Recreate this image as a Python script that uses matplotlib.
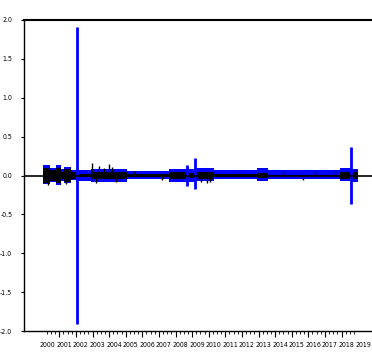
import matplotlib
matplotlib.use("Agg")
import matplotlib.pyplot as plt
import matplotlib.transforms as mtransforms
from matplotlib.font_manager import FontProperties, findfont
import numpy as np

# Envelope segments (year start, year end) with blue band and black band limits
seg_start = [2000.0, 2000.44, 2000.8, 2001.1, 2001.3, 2001.7, 2002.0, 2002.9, 2005.1,
             2007.6, 2008.75, 2009.25, 2010.3, 2012.9, 2013.55, 2017.9, 2018.63]
seg_end = [2000.44, 2000.8, 2001.1, 2001.3, 2001.7, 2002.0, 2002.9, 2005.1, 2007.6,
           2008.75, 2009.25, 2010.3, 2012.9, 2013.55, 2017.9, 2018.63, 2019.0]
blue_hi = [0.13, 0.10, 0.13, 0.08, 0.11, 0.07, 0.07, 0.085, 0.055,
           0.09, 0.09, 0.10, 0.07, 0.10, 0.07, 0.10, 0.09]
blue_lo = [-0.115, -0.09, -0.12, -0.07, -0.10, -0.06, -0.07, -0.085, -0.05,
           -0.085, -0.08, -0.07, -0.05, -0.07, -0.05, -0.07, -0.08]
black_hi = [0.10, 0.07, 0.10, 0.05, 0.08, 0.04, 0.02, 0.04, 0.015,
            0.04, 0.035, 0.04, 0.015, 0.035, 0.012, 0.04, 0.05]
black_lo = [-0.10, -0.07, -0.10, -0.05, -0.08, -0.04, -0.02, -0.04, -0.015,
            -0.04, -0.035, -0.04, -0.015, -0.035, -0.012, -0.04, -0.05]

# Isolated blue spikes (year, high, low)
spike_year = [2002.05, 2008.69, 2009.18, 2018.57]
spike_hi = [1.91, 0.13, 0.23, 0.37]
spike_lo = [-1.91, -0.14, -0.18, -0.37]

# Isolated black spikes (year, value)
bspike_year = [2000.3, 2000.9, 2001.4, 2002.95, 2003.2, 2003.4, 2003.7, 2004.0, 2004.15,
               2004.4, 2005.5, 2007.2, 2009.55, 2009.9, 2010.1, 2011.8, 2014.5, 2015.7,
               2016.4, 2017.6, 2018.8]
bspike_val = [-0.12, 0.11, -0.11, 0.16, -0.10, 0.12, 0.10, 0.15, 0.11,
              -0.09, 0.06, -0.06, -0.09, -0.10, -0.09, 0.05, 0.06, -0.06,
              0.06, 0.06, 0.08]

year_labels = [str(y) for y in range(2000, 2020)]
ytick_vals = [-2.0, -1.5, -1.0, -0.5, 0.0, 0.5, 1.0, 1.5, 2.0]

fig = plt.figure(figsize=(3.72, 3.52), dpi=100)
W, H = 372, 352
left_px, right_px, top_px, bot_px = 24, 390, 20, 331
ax = fig.add_axes([left_px / W, (H - bot_px) / H, (right_px - left_px) / W, (bot_px - top_px) / H])

x0 = 2000 + (left_px - 42.7) / 16.6
x1 = 2000 + (right_px - 42.7) / 16.6
ax.set_xlim(x0, x1)
ax.set_ylim(-2.0, 2.0)

blue = (0, 0, 1)
for s, e, bh, bl, kh, kl in zip(seg_start, seg_end, blue_hi, blue_lo, black_hi, black_lo):
    ax.fill_between([s, e], [bl, bl], [bh, bh], color=blue, lw=0, zorder=2)
    ax.fill_between([s, e], [kl, kl], [kh, kh], color='black', lw=0, zorder=3)

ax.vlines(bspike_year, 0, bspike_val, color='black', lw=1.0, zorder=3)
ax.vlines(spike_year, spike_lo, spike_hi, color=blue, lw=2.0, zorder=4)

ax.axhline(0, color='black', lw=1.2, zorder=5)

for sp in ['left', 'bottom', 'top']:
    ax.spines[sp].set_linewidth(1.0)
    ax.spines[sp].set_color('black')
ax.spines['right'].set_visible(False)
ax.spines['top'].set_linewidth(1.5)

fp = FontProperties(family='DejaVu Sans', stretch='condensed', size=5.0)
try:
    path = findfont(fp, fallback_to_default=True)
    if 'Condensed' not in path:
        fp = FontProperties(family='Liberation Sans', size=4.6)
except Exception:
    fp = FontProperties(family='Liberation Sans', size=4.6)

ax.set_yticks(ytick_vals)
ax.set_yticklabels([f"{v:.1f}" for v in ytick_vals], fontproperties=fp)
ax.tick_params(axis='y', direction='out', length=2.5, width=0.8, pad=6)

major_years = list(range(2001, 2019))
minor_q = [y + q for y in range(2000, 2019) for q in (0.25, 0.5, 0.75)]
ax.set_xticks(major_years)
ax.set_xticks(minor_q, minor=True)
ax.set_xticklabels([])
ax.tick_params(axis='x', which='major', direction='out', length=4, width=0.8)
ax.tick_params(axis='x', which='minor', direction='out', length=2.2, width=0.6)

trans = mtransforms.blended_transform_factory(ax.transData, ax.transAxes)
for i, lab in enumerate(year_labels):
    ax.text(2000 + i + 0.3, -0.045, lab, transform=trans, ha='center', va='center',
            fontproperties=fp)

fig.savefig('out.png', dpi=100)
